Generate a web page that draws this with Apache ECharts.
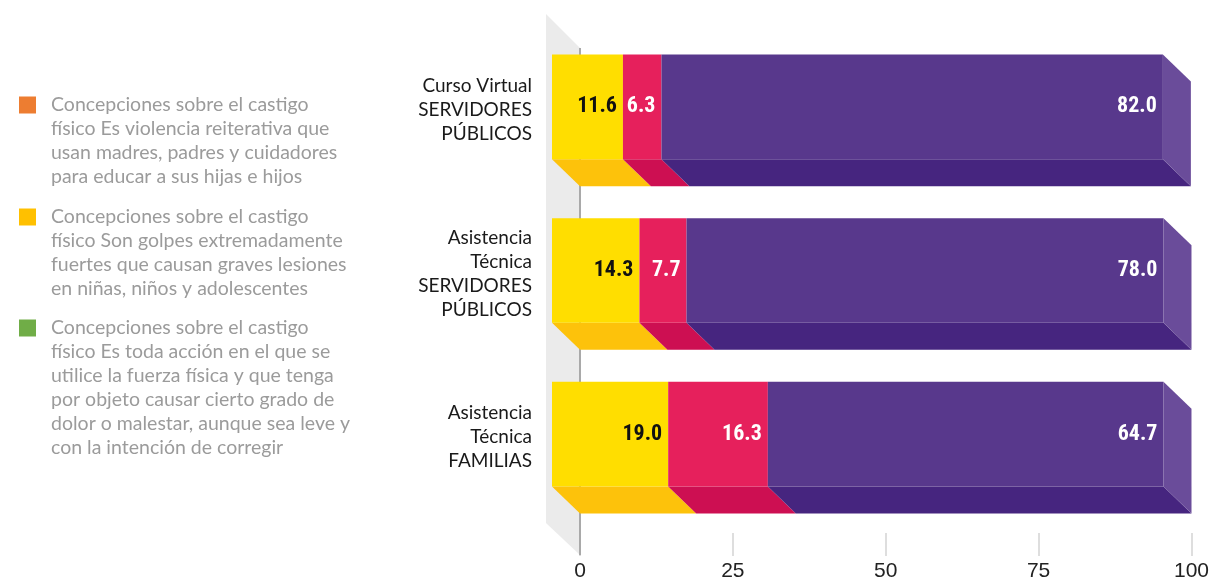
<!DOCTYPE html>
<html>
<head>
<meta charset="utf-8">
<title>Concepciones sobre el castigo físico</title>
<script src="https://cdn.jsdelivr.net/npm/echarts@6/dist/echarts.min.js"></script>
<style>
  html, body { margin: 0; padding: 0; background: #fff; }
  #main { width: 1212px; height: 582px; }
</style>
</head>
<body>
<div id="main"></div>
<script>
// categories, top to bottom
var categories = ['Curso Virtual\nSERVIDORES\nPÚBLICOS', 'Asistencia\nTécnica\nSERVIDORES\nPÚBLICOS', 'Asistencia\nTécnica\nFAMILIAS'];

// legend texts (one array of lines per series)
var legendLines = [
  ['Concepciones sobre el castigo', 'físico Es violencia reiterativa que', 'usan madres, padres y cuidadores', 'para educar a sus hijas e hijos'],
  ['Concepciones sobre el castigo', 'físico Son golpes extremadamente', 'fuertes que causan graves lesiones', 'en niñas, niños y adolescentes'],
  ['Concepciones sobre el castigo', 'físico Es toda acción en el que se', 'utilice la fuerza física y que tenga', 'por objeto causar cierto grado de', 'dolor o malestar, aunque sea leve y', 'con la intención de corregir']
];
var legendColors = ['#ED7D31', '#FFC000', '#70AD47'];

// series values (%)
var valuesA = [11.6, 14.3, 19.0];
var valuesB = [6.3, 7.7, 16.3];
var valuesC = [82.0, 78.0, 64.7];

var xTicks = [0, 25, 50, 75, 100];

var seriesValues = [valuesA, valuesB, valuesC];
var names = legendLines.map(function (l) { return l.join(' '); });

// colours per segment: front face, bottom face, side face, label
var faces = [
  { front: '#FFDE00', bottom: '#FDC20B', side: '#F5C400', label: '#111111' },
  { front: '#E6205C', bottom: '#CD0F52', side: '#B8104A', label: '#ffffff' },
  { front: '#58388C', bottom: '#46257F', side: '#6A4C9A', label: '#ffffff' }
];

var DX = 28, DY = 27;

var myChart = echarts.init(document.getElementById('main'));

// legend text: blank lines in front so the first real line sits beside the icon
function wrapName(name) {
  var i = names.indexOf(name);
  if (i < 0) return name;
  var lines = legendLines[i];
  var pre = [];
  for (var k = 1; k < lines.length; k++) pre.push(' ');
  return pre.concat(lines).join('\n');
}

var series = [];
// grey side wall behind the bars
series.push({
  type: 'custom',
  name: 'wall',
  silent: true,
  data: [[0, 0]],
  encode: { x: 0, y: 1 },
  renderItem: function (params, api) {
    var cs = params.coordSys;
    var x0 = api.coord([0, 0])[0];
    var gTop = cs.y, gBot = cs.y + cs.height;
    return {
      type: 'group',
      children: [
        { type: 'polygon', shape: { points: [[x0 - 34, gTop - 38], [x0, gTop - 4], [x0, gBot + 12], [x0 - 34, gBot - 20]] }, style: { fill: '#ebebeb' } },
        { type: 'line', shape: { x1: x0, y1: gTop - 4, x2: x0, y2: gBot + 12 }, style: { stroke: '#a9a9a9', lineWidth: 2 } }
      ]
    };
  }
});

seriesValues.forEach(function (vals, s) {
  var data = vals.map(function (v, i) {
    var start = 0;
    for (var k = 0; k < s; k++) start += seriesValues[k][i];
    return [start, start + v, i, v];
  });
  var f = faces[s];
  var last = s === seriesValues.length - 1;
  series.push({
    type: 'custom',
    name: names[s],
    itemStyle: { color: f.front },
    data: data,
    encode: { x: [0, 1], y: 2 },
    renderItem: function (params, api) {
      var a = api.coord([api.value(0), api.value(2)]);
      var b = api.coord([api.value(1), api.value(2)]);
      var band = api.size([0, 1])[1];
      var h = band * 0.64;
      var top = a[1] - h / 2, bot = a[1] + h / 2;
      var children = [
        { type: 'polygon', shape: { points: [[a[0] - DX, bot - DY], [b[0] - DX, bot - DY], [b[0], bot], [a[0], bot]] }, style: { fill: f.bottom } },
        { type: 'rect', shape: { x: a[0] - DX, y: top - DY, width: b[0] - a[0], height: h }, style: { fill: f.front } }
      ];
      if (last) {
        children.push({ type: 'polygon', shape: { points: [[b[0] - DX, top - DY], [b[0], top], [b[0], bot], [b[0] - DX, bot - DY]] }, style: { fill: f.side } });
      }
      children.push({
        type: 'text',
        style: {
          x: b[0] - DX - 6, y: a[1] - DY,
          text: api.value(3).toFixed(1),
          align: 'right', verticalAlign: 'middle',
          fill: f.label,
          font: 'bold 22px "Liberation Sans Narrow", "Roboto Condensed", Roboto, sans-serif'
        }
      });
      return { type: 'group', children: children };
    }
  });
});

function legendFor(s, top) {
  return {
    orient: 'vertical',
    left: 19,
    top: top,
    padding: 0,
    icon: 'rect',
    itemWidth: 17,
    itemHeight: 17,
    selectedMode: false,
    data: [{ name: names[s], itemStyle: { color: legendColors[s] } }],
    formatter: wrapName,
    textStyle: {
      color: '#9b9b9b',
      fontFamily: 'Lato',
      fontSize: 19.5,
      lineHeight: 24,
      padding: [0, 0, 0, 10]
    }
  };
}

option = {
  animation: false,
  backgroundColor: '#ffffff',
  grid: { left: 580, right: 12, top: 52, bottom: 37 },
  legend: [legendFor(0, 21), legendFor(1, 133), legendFor(2, 196)],
  xAxis: {
    type: 'value',
    min: xTicks[0],
    max: xTicks[xTicks.length - 1],
    interval: 25,
    offset: -10,
    axisLine: { show: false },
    axisTick: { show: true, length: 23, lineStyle: { color: '#d4d4d4', width: 1.5 } },
    splitLine: { show: false },
    axisLabel: {
      margin: 28,
      color: '#222222',
      fontFamily: 'Liberation Sans',
      fontSize: 21
    }
  },
  yAxis: {
    type: 'category',
    inverse: true,
    data: categories,
    axisLine: { show: false },
    axisTick: { show: false },
    axisLabel: {
      margin: 48,
      align: 'right',
      color: '#1a1a1a',
      fontFamily: 'Lato',
      fontSize: 19,
      lineHeight: 24,
      // two trailing blank lines lift the label onto the bar's front face
      formatter: function (v) { return v + '\n \n '; }
    }
  },
  series: series
};

myChart.setOption(option);
</script>
</body>
</html>
